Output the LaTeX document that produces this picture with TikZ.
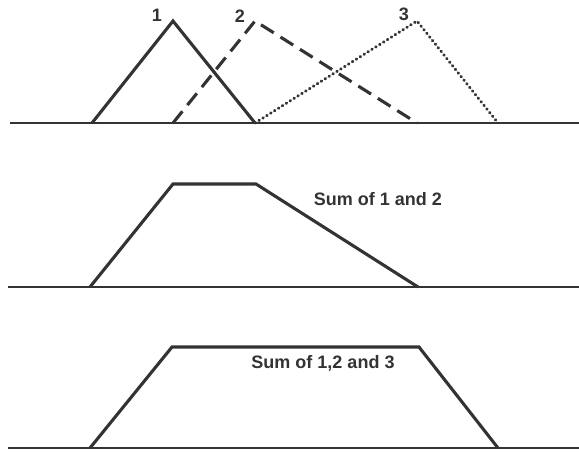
\documentclass[tikz,border=0pt]{standalone}
\usepackage{fontspec}
\setsansfont{Liberation Sans}
\usepackage{tikz}
\begin{document}
\begin{tikzpicture}[
  x=1pt,y=-1pt,
  every node/.style={font=\sffamily\bfseries\fontsize{18}{21}\selectfont,text=black!80,inner sep=0pt},
  axis/.style={draw=black!80,line width=2.3pt},
  mf/.style={draw=black!80,line width=3.1pt,line join=miter},
  mfdash/.style={mf,dash pattern=on 15pt off 8pt},
  mfdot/.style={mf,line width=3pt,line cap=round,dash pattern=on 0.6pt off 4pt}
]
\useasboundingbox (0,0) rectangle (579,452);

% 横軸
\draw[axis] (10,123) -- (579,123);
\foreach \y in {287,448}{
  \draw[axis] (8,\y) -- (579,\y);
}

% 三つの三角形
\draw[mf] (92,123) -- (173,21) -- (255,123);
\draw[mfdash] (173,123) -- (255,21) -- (417,123);
\draw[mfdot] (255,123) -- (417,21) -- (498,123);
\node (one) at (157,15) {1};
\node (two) at (240,16) {2};
\node (three) at (404,14) {3};

% 1 と 2 の和
\draw[mf] (90,287) -- (173,184) -- (256,184) -- (418,287);
\node (sumtwo) at (378,199) {Sum of 1 and 2};

% 1, 2, 3 の和
\draw[mf] (90,448) -- (172,347) -- (419,347) -- (498,448);
\node (sumthree) at (323,363) {Sum of 1,2 and 3};
\end{tikzpicture}
\end{document}
